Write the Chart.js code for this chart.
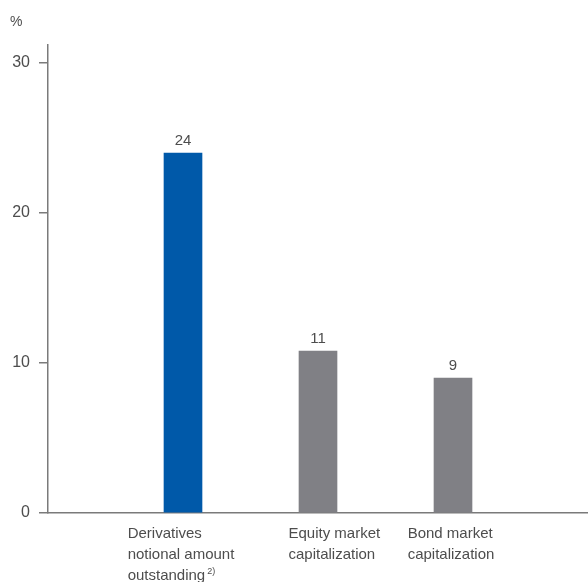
<!DOCTYPE html>
<html>
<head>
<meta charset="utf-8">
<script src="https://cdn.jsdelivr.net/npm/chart.js@4/dist/chart.umd.min.js"></script>
<style>
  html, body { margin: 0; padding: 0; background: #fff; }
  #wrap { width: 588px; height: 582px; position: relative; }
</style>
</head>
<body>
<div id="wrap"><canvas id="chart" width="588" height="582"></canvas></div>
<script>
'use strict';

// data
const categories = ['', 'Derivatives notional amount outstanding', 'Equity market capitalization', 'Bond market capitalization', ''];
const labelLines = [[], ['Derivatives', 'notional amount', 'outstanding'], ['Equity market', 'capitalization'], ['Bond market', 'capitalization'], []];
const labelNotes = ['', '2)', '', '', ''];
const values = [null, 24, 10.8, 9, null];
const valueLabels = ['', '24', '11', '9', ''];
const barColors = ['#808085', '#0059a9', '#808085', '#808085', '#808085'];
const yTicks = [0, 10, 20, 30];

const FONT = '"Liberation Sans", Arial, sans-serif';
const TEXT = '#4d4d4d';
const AXIS = '#7a7a7a';

// value labels above bars, unit label, category labels below axis
const textPlugin = {
  id: 'texts',
  afterDatasetsDraw(chart) {
    const ctx = chart.ctx;
    const meta = chart.getDatasetMeta(0);
    const x = chart.scales.x;
    const area = chart.chartArea;
    ctx.save();
    ctx.fillStyle = TEXT;
    ctx.font = '15px ' + FONT;
    ctx.textAlign = 'center';
    ctx.textBaseline = 'bottom';
    meta.data.forEach((bar, i) => {
      if (values[i] == null) return;
      ctx.fillText(valueLabels[i], bar.x, bar.y - 5);
    });

    // unit
    ctx.textAlign = 'left';
    ctx.textBaseline = 'alphabetic';
    ctx.font = '14px ' + FONT;
    ctx.fillText('%', 10, 26);

    // category labels, left aligned inside a centred block
    ctx.font = '15px ' + FONT;
    labelLines.forEach((lines, i) => {
      if (!lines.length) return;
      const cx = x.getPixelForValue(i);
      let w = 0;
      lines.forEach(l => { w = Math.max(w, ctx.measureText(l).width); });
      const left = cx - w / 2 - 2;
      lines.forEach((l, j) => {
        const y = area.bottom + 25 + j * 21;
        ctx.font = '15px ' + FONT;
        ctx.fillText(l, left, y);
        if (j === lines.length - 1 && labelNotes[i]) {
          const lw = ctx.measureText(l).width;
          ctx.font = '9px ' + FONT;
          ctx.fillText(labelNotes[i], left + lw + 2, y - 6);
        }
      });
    });
    ctx.restore();
  }
};

new Chart(document.getElementById('chart'), {
  type: 'bar',
  data: {
    labels: categories,
    datasets: [{
      data: values,
      backgroundColor: barColors,
      barThickness: 38,
      borderWidth: 0
    }]
  },
  options: {
    responsive: false,
    animation: false,
    layout: { padding: { top: 45, right: 0, bottom: 61, left: 0 } },
    plugins: { legend: { display: false }, tooltip: { enabled: false } },
    scales: {
      x: {
        offset: false,
        grid: { display: false },
        border: { color: AXIS, width: 1.5 },
        ticks: { display: false }
      },
      y: {
        min: 0,
        max: 31.2,
        afterBuildTicks(scale) { scale.ticks = yTicks.map(v => ({ value: v })); },
        afterFit(scale) { scale.width = 48; },
        grid: { drawOnChartArea: false, tickLength: 9, color: AXIS, lineWidth: 1.5 },
        border: { color: AXIS, width: 1.5 },
        ticks: { color: TEXT, font: { family: FONT, size: 16 }, padding: 9 }
      }
    }
  },
  plugins: [textPlugin]
});
</script>
</body>
</html>
